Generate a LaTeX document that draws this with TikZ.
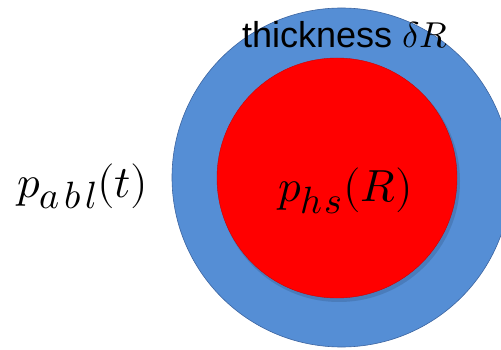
\documentclass[tikz,border=0pt]{standalone}
\usepackage{unicode-math}
\setmathfont{Latin Modern Math}
\setsansfont{Liberation Sans}
\DeclareMathSizes{45}{45}{38}{30}
\begin{document}
\begin{tikzpicture}[x=1pt,y=-1pt,
  lbl/.style={inner sep=0pt, anchor=base west},
  mathlbl/.style={lbl, font=\fontsize{45}{48}\selectfont}]
\useasboundingbox (0,0) rectangle (501,350);
\definecolor{shellblue}{RGB}{85,142,213}
\definecolor{shellborder}{RGB}{60,100,160}
\begin{scope}
\clip (0,0) rectangle (501,350);
\fill[shellblue, draw=shellborder, line width=0.6pt] (341.5,177.5) circle (169.5);
\fill[black, opacity=0.12] (339,181) circle (121);
\fill[red, draw=red!80!black, line width=0.4pt] (337,178) circle (120);
\end{scope}
\node[lbl, font=\sffamily\fontsize{36}{40}\selectfont] (thick) at (242,48) {thickness $\delta R$};
\node[mathlbl] (pabl) at (17,197) {$p_{a\mkern2mu b\mkern2mu l}(t)$};
\node[mathlbl] (phs) at (278,202) {$p_{h\mkern1mu s}(R)$};
\end{tikzpicture}
\end{document}
